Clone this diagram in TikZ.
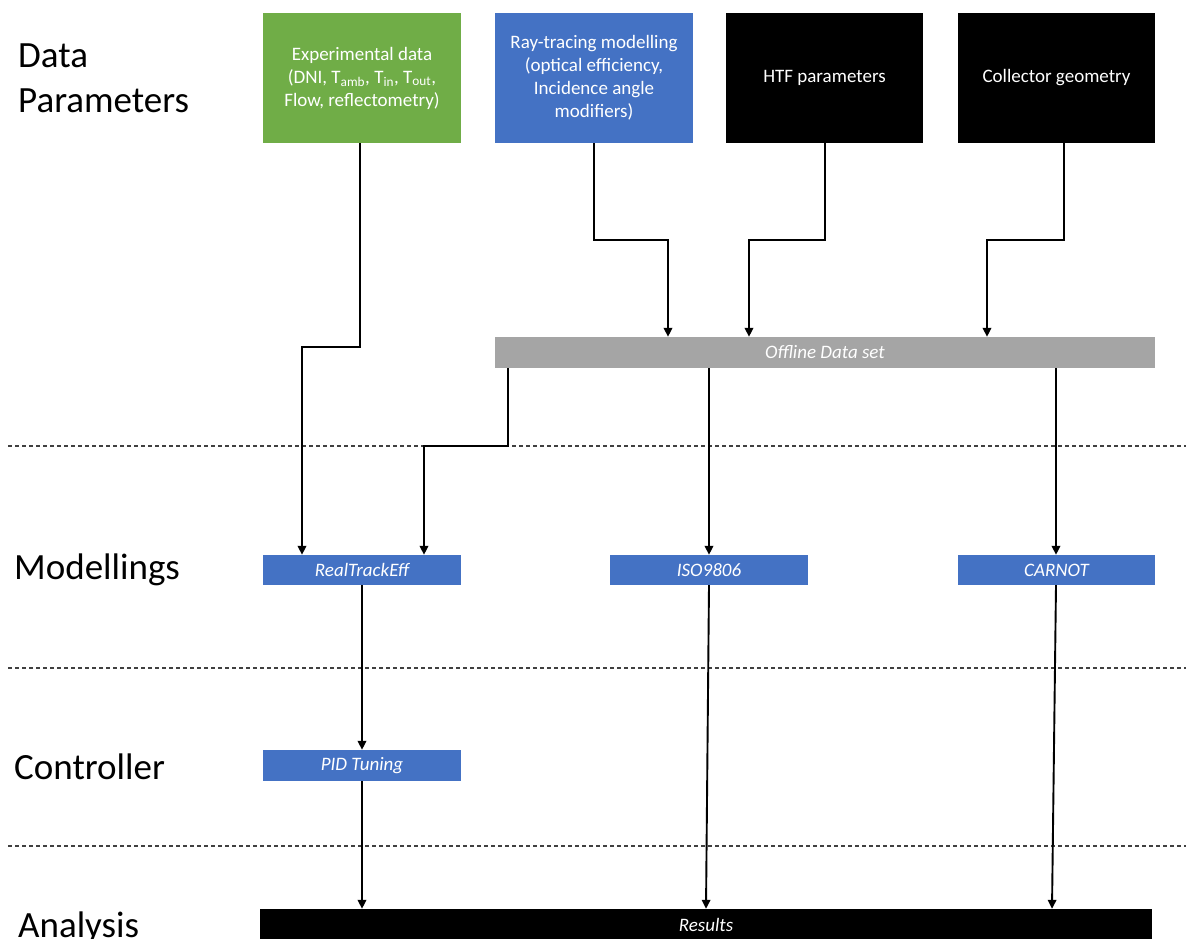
\documentclass[tikz,border=0pt]{standalone}
\usepackage{fontspec}
\setmainfont{Carlito}
\usetikzlibrary{arrows.meta}
\definecolor{cgreen}{HTML}{70AD47}
\definecolor{cblue}{HTML}{4472C4}
\definecolor{cgray}{HTML}{A5A5A5}
\definecolor{cdash}{HTML}{404040}
\begin{document}
\begin{tikzpicture}[x=1pt,y=-1pt,
  topbox/.style={minimum width=198pt,minimum height=130pt,inner sep=0pt,text=white,
    font=\fontsize{19}{23}\selectfont,align=center},
  bar/.style={minimum height=31pt,inner sep=0pt,text=white,font=\fontsize{19}{22}\selectfont\itshape},
  arr/.style={line width=1.9pt,-{Triangle[length=9pt,width=8.5pt]}},
  sep/.style={cdash,line width=1.1pt,dash pattern=on 4pt off 3pt},
  lab/.style={font=\fontsize{37}{45}\selectfont,anchor=base west,inner sep=0pt}
]
\useasboundingbox (0,0) rectangle (1186,938);
\fill[white] (0,0) rectangle (1186,938);

% separators
\draw[sep] (8,446) -- (1186,446);
\draw[sep] (8,668) -- (1186,668);
\draw[sep] (8,846) -- (1186,846);

% row labels
\node[lab] (l1a) at (18,67) {Data};
\node[lab] (l1b) at (18,112) {Parameters};
\node[lab] (l2) at (14,579) {Modellings};
\node[lab] (l3) at (14,779) {Controller};
\node[lab] (l4) at (18,937) {Analysis};

% top boxes
\node[topbox,fill=cgreen] (exp) at (362,78) {Experimental data\\(DNI, T\textsubscript{amb}, T\textsubscript{in}, T\textsubscript{out},\\Flow, reflectometry)};
\node[topbox,fill=cblue] (ray) at (594,78) {Ray-tracing modelling\\(optical efficiency,\\Incidence angle\\modifiers)};
\node[topbox,fill=black,minimum width=197pt] (htf) at (824.5,78) {HTF parameters};
\node[topbox,fill=black,minimum width=197pt] (coll) at (1056.5,78) {Collector geometry};

% offline bar
\node[bar,fill=cgray,minimum width=660pt] (off) at (825,352.5) {Offline Data set};

% modelling boxes
\node[bar,fill=cblue,minimum width=198pt,minimum height=30pt] (rte) at (362,570) {RealTrackEff};
\node[bar,fill=cblue,minimum width=198pt,minimum height=30pt] (iso) at (709,570) {ISO9806};
\node[bar,fill=cblue,minimum width=197pt,minimum height=30pt] (car) at (1056.5,570) {CARNOT};

% controller
\node[bar,fill=cblue,minimum width=198pt] (pid) at (362,765.5) {PID Tuning};

% results
\node[bar,fill=black,minimum width=892pt,minimum height=31pt] (res) at (706,924.5) {Results};

% connectors
\draw[arr] ([xshift=-2pt]exp.south) -- ++(0,204) -| ([xshift=-60pt]rte.north);
\draw[arr] (ray.south) -- ++(0,97) -| ([xshift=-157pt]off.north);
\draw[arr] ([xshift=0.5pt]htf.south) -- ++(0,97) -| ([xshift=-76pt]off.north);
\draw[arr] ([xshift=7.5pt]coll.south) -- ++(0,97) -| ([xshift=162pt]off.north);
\draw[arr] ([xshift=13pt]off.south west) -- ++(0,78) -| ([xshift=62pt]rte.north);
\draw[arr] (off.south -| iso.north) -- (iso.north);
\draw[arr] ([xshift=-0.5pt]off.south -| car.north) -- ([xshift=-0.5pt]car.north);
\draw[arr] (rte.south) -- (pid.north);
\draw[arr] (pid.south) -- (res.north -| pid.south);
\draw[arr] (iso.south) -- ([xshift=-3pt]res.north -| iso.south);
\draw[arr] ([xshift=-0.5pt]car.south) -- ([xshift=-4.5pt]res.north -| car.south);
\end{tikzpicture}
\end{document}
